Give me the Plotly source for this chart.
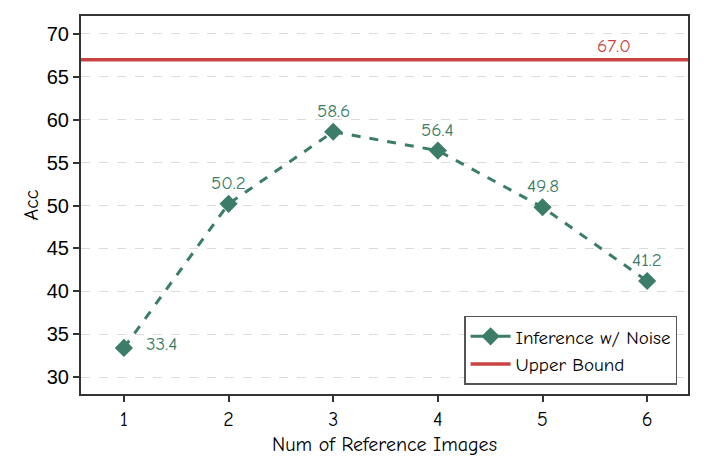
import plotly.graph_objects as go

num_refs = [1, 2, 3, 4, 5, 6]
acc_noise = [33.4, 50.2, 58.6, 56.4, 49.8, 41.2]
upper_bound = 67.0
y_ticks = [30, 35, 40, 45, 50, 55, 60, 65, 70]

green = "#3b7d68"
red = "#c94343"
font_fam = "Comic Sans MS, Comic Neue, Noto Sans, sans-serif"
x_range = [0.59, 6.39]

fig = go.Figure()
fig.add_trace(go.Scatter(
    x=num_refs, y=acc_noise, mode="lines+markers", name="Inference w/ Noise",
    line=dict(color=green, width=3, dash="dash"),
    marker=dict(symbol="diamond", size=14, color=green),
    showlegend=False,
))
# legend entry (solid line + diamond, like the reference legend)
fig.add_trace(go.Scatter(
    x=[None], y=[None], mode="lines+markers", name="Inference w/ Noise",
    line=dict(color=green, width=3),
    marker=dict(symbol="diamond", size=14, color=green),
))
fig.add_trace(go.Scatter(
    x=x_range, y=[upper_bound, upper_bound], mode="lines", name="Upper Bound",
    line=dict(color=red, width=3.5),
))

for i, (x, y) in enumerate(zip(num_refs, acc_noise)):
    if i == 0:
        fig.add_annotation(x=x, y=y, text=f"{y:.1f}", showarrow=False,
                           xshift=38, yshift=4, font=dict(color=green, size=19, family=font_fam))
    else:
        fig.add_annotation(x=x, y=y, text=f"{y:.1f}", showarrow=False,
                           yshift=21, font=dict(color=green, size=19, family=font_fam))
fig.add_annotation(x=5.68, y=upper_bound, text=f"{upper_bound:.1f}", showarrow=False,
                   yshift=14, font=dict(color=red, size=19, family=font_fam))

fig.update_layout(
    width=688, height=458,
    margin=dict(l=73, r=7, t=6, b=72),
    plot_bgcolor="white", paper_bgcolor="white",
    font=dict(family=font_fam, size=19, color="black"),
    showlegend=True,
    legend=dict(x=0.982, y=0.024, xanchor="right", yanchor="bottom",
                bordercolor="#555555", borderwidth=1.5, bgcolor="white",
                itemwidth=40, tracegroupgap=0,
                font=dict(size=19, family=font_fam)),
)
fig.update_xaxes(
    range=x_range, tickvals=num_refs, ticks="outside", ticklen=6, tickwidth=1.5,
    tickcolor="#333333",
    showline=True, linecolor="#333333", linewidth=2, mirror=True,
    showgrid=False, zeroline=False,
    title=dict(text="Num of Reference Images", font=dict(size=20, family=font_fam), standoff=7),
    tickfont=dict(size=20, family=font_fam),
)
fig.update_yaxes(
    range=[28.03, 72.09], tickvals=y_ticks, ticks="outside", ticklen=6, tickwidth=1.5,
    tickcolor="#333333",
    showline=True, linecolor="#333333", linewidth=2, mirror=True,
    showgrid=True, gridcolor="#dcdcdc", griddash="dash", gridwidth=1, zeroline=False,
    title=dict(text="Acc", font=dict(size=20, family=font_fam), standoff=3),
    tickfont=dict(size=20, family="Liberation Sans, Arial, sans-serif"),
)

fig.write_html("out.html")
